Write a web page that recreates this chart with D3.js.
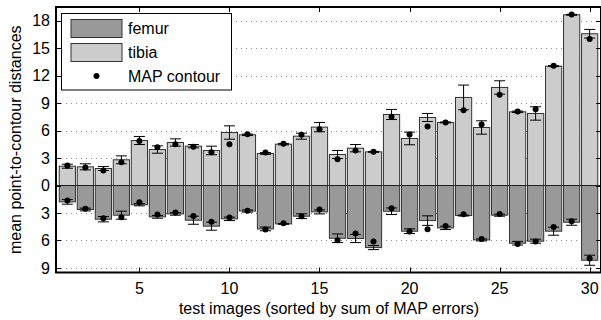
<!DOCTYPE html>
<html><head><meta charset="utf-8">
<script src="https://cdn.jsdelivr.net/npm/d3@7"></script>
<style>body{margin:0;background:#fff}svg{display:block}text{font-family:"Liberation Sans",Arial,sans-serif;fill:#000}</style>
</head><body><svg id="c" width="601" height="320"></svg>
<script>
const images = d3.range(1, 31);
const tibiaMean = [2.11,2.04,1.86,2.81,4.92,3.93,4.70,4.30,3.83,5.79,5.54,3.50,4.52,5.39,6.38,3.39,4.08,3.68,7.76,5.14,7.43,6.89,9.62,6.34,10.71,8.05,7.87,13.04,18.65,16.58];
const tibiaStd  = [0.22,0.33,0.22,0.43,0.44,0.40,0.40,0.18,0.47,0.73,0.08,0.10,0.08,0.33,0.51,0.44,0.40,0.05,0.55,0.69,0.44,0.05,1.35,0.73,0.73,0.08,0.73,0.05,0.05,0.47];
const tibiaMAP  = [2.19,1.97,1.64,2.55,4.85,4.19,4.52,4.23,3.64,4.52,5.59,3.61,4.55,5.54,6.16,2.88,3.83,3.68,7.50,5.57,6.45,6.89,8.23,6.67,9.91,8.09,8.34,13.08,18.69,16.0];
const femurMean = [1.79,2.62,3.68,3.24,2.10,3.42,3.10,3.79,4.44,3.64,2.79,4.74,4.19,3.35,2.88,5.76,5.79,6.78,2.81,4.99,3.83,4.63,3.28,5.94,3.24,6.30,6.08,4.99,4.01,8.16];
const femurStd  = [0.25,0.15,0.29,0.44,0.12,0.15,0.14,0.44,0.44,0.19,0.12,0.20,0.05,0.26,0.22,0.47,0.44,0.22,0.36,0.26,0.52,0.18,0.05,0.11,0.11,0.20,0.22,0.44,0.33,0.55];
const femurMAP  = [1.64,2.55,3.57,3.46,1.82,3.17,2.95,3.32,3.97,3.50,2.75,4.81,4.12,3.35,2.62,5.97,5.25,6.12,2.48,5.03,4.77,4.41,3.13,5.83,3.10,6.38,6.12,4.52,3.90,7.98];
const yTicks = [-9,-6,-3,0,3,6,9,12,15,18];
const xTicks = [5,10,15,20,25,30];
const legendLabels = ["femur","tibia","MAP contour"];

const svg = d3.select("#c");
const L = 56, R = 601, T = 7, B = 272.5;
const x = d3.scaleLinear().domain([0.37, 30.63]).range([L, R]);
const y = d3.scaleLinear().domain([-9.5, 19.5]).range([B, T]);
const bw = x(0.9) - x(0);
const cap = 11;
const fs = 16;
const femurFill = "#999999", tibiaFill = "#cccccc", edge = "#333";

// grid
svg.append("g").selectAll("line").data(yTicks.filter(d => d !== 0)).join("line")
  .attr("x1", L).attr("x2", R).attr("y1", d => Math.round(y(d)) + 0.5).attr("y2", d => Math.round(y(d)) + 0.5)
  .attr("stroke", "#888").attr("stroke-dasharray", "1,4");

// bars
const g = svg.append("g");
g.selectAll(".tb").data(images).join("rect")
  .attr("x", d => x(d) - bw / 2).attr("width", bw)
  .attr("y", (d, i) => y(tibiaMean[i])).attr("height", (d, i) => y(0) - y(tibiaMean[i]))
  .attr("fill", tibiaFill).attr("stroke", edge).attr("stroke-width", 1);
g.selectAll(".fb").data(images).join("rect")
  .attr("x", d => x(d) - bw / 2).attr("width", bw)
  .attr("y", y(0)).attr("height", (d, i) => y(-femurMean[i]) - y(0))
  .attr("fill", femurFill).attr("stroke", edge).attr("stroke-width", 1);

// zero line
svg.append("line").attr("x1", L).attr("x2", R).attr("y1", y(0)).attr("y2", y(0)).attr("stroke", "#222").attr("stroke-width", 1);

// error bars
function errs(vals, stds) {
  const eg = svg.append("g").attr("stroke", "#000").attr("stroke-width", 1);
  images.forEach((d, i) => {
    const cx = x(d), lo = y(vals[i] - stds[i]), hi = y(vals[i] + stds[i]);
    eg.append("line").attr("x1", cx).attr("x2", cx).attr("y1", lo).attr("y2", hi);
    eg.append("line").attr("x1", cx - cap / 2).attr("x2", cx + cap / 2).attr("y1", lo).attr("y2", lo);
    eg.append("line").attr("x1", cx - cap / 2).attr("x2", cx + cap / 2).attr("y1", hi).attr("y2", hi);
  });
}
errs(tibiaMean, tibiaStd);
errs(femurMean.map(v => -v), femurStd);

// MAP dots
svg.append("g").selectAll("circle").data(images).join("circle")
  .attr("cx", d => x(d)).attr("cy", (d, i) => y(tibiaMAP[i])).attr("r", 3).attr("fill", "#000");
svg.append("g").selectAll("circle").data(images).join("circle")
  .attr("cx", d => x(d)).attr("cy", (d, i) => y(-femurMAP[i])).attr("r", 3).attr("fill", "#000");

// ticks (inside, all four sides)
const tk = svg.append("g").attr("stroke", "#000").attr("stroke-width", 1);
yTicks.forEach(v => {
  const yy = Math.round(y(v)) + 0.5;
  tk.append("line").attr("x1", L).attr("x2", L + 5).attr("y1", yy).attr("y2", yy);
  tk.append("line").attr("x1", R - 5).attr("x2", R).attr("y1", yy).attr("y2", yy);
});
xTicks.forEach(v => {
  const xx = Math.round(x(v)) + 0.5;
  tk.append("line").attr("x1", xx).attr("x2", xx).attr("y1", B).attr("y2", B - 5);
  tk.append("line").attr("x1", xx).attr("x2", xx).attr("y1", T).attr("y2", T + 5);
});

// frame
svg.append("rect").attr("x", L).attr("y", T).attr("width", R - L).attr("height", B - T)
  .attr("fill", "none").attr("stroke", "#000").attr("stroke-width", 2);

// tick labels
svg.append("g").selectAll("text").data(yTicks).join("text")
  .attr("x", L - 6).attr("y", d => y(d)).attr("dy", "0.35em").attr("text-anchor", "end")
  .attr("font-size", fs).text(d => Math.abs(d));
svg.append("g").selectAll("text").data(xTicks).join("text")
  .attr("x", d => x(d)).attr("y", 288).attr("dy", "0.35em").attr("text-anchor", "middle")
  .attr("font-size", fs).text(d => d);

// axis labels
svg.append("text").attr("x", 329).attr("y", 308).attr("dy", "0.35em").attr("text-anchor", "middle")
  .attr("font-size", fs).text("test images (sorted by sum of MAP errors)");
svg.append("text").attr("transform", `translate(15,${(T + B) / 2}) rotate(-90)`).attr("dy", "0.35em")
  .attr("text-anchor", "middle").attr("font-size", fs).text("mean point-to-contour distances");

// legend
const lg = svg.append("g");
lg.append("rect").attr("x", 61.5).attr("y", 13.5).attr("width", 170).attr("height", 76.5)
  .attr("fill", "#fff").attr("stroke", "#000").attr("stroke-width", 1);
const fills = [femurFill, tibiaFill];
[0, 1].forEach(k => {
  lg.append("rect").attr("x", 71).attr("y", 19.5 + k * 24).attr("width", 51).attr("height", 18)
    .attr("fill", fills[k]).attr("stroke", edge);
});
lg.append("circle").attr("cx", 96.5).attr("cy", 76).attr("r", 3).attr("fill", "#000");
lg.selectAll("text").data(legendLabels).join("text")
  .attr("x", 128).attr("y", (d, i) => 28.5 + i * 24).attr("dy", "0.35em").attr("font-size", fs).text(d => d);
</script></body></html>
